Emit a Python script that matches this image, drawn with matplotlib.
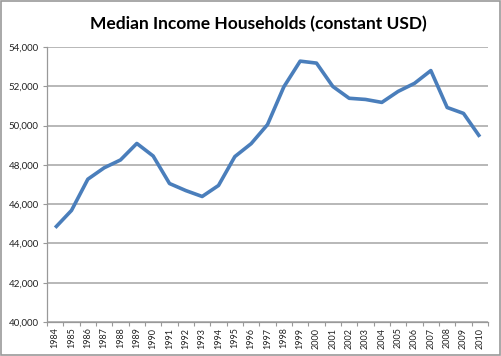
import matplotlib
matplotlib.use("Agg")
import matplotlib.pyplot as plt
from matplotlib.patches import Rectangle
from matplotlib.ticker import FuncFormatter, FixedLocator

years = list(range(1984, 2011))
income = [44800, 45680, 47270, 47850, 48250, 49090, 48450, 47050, 46690,
          46390, 46950, 48420, 49080, 50050, 51970, 53280, 53180, 51990,
          51390, 51330, 51180, 51740, 52150, 52800, 50920, 50620, 49430]

plt.rcParams['font.family'] = ['Lato', 'DejaVu Sans']

fig = plt.figure(figsize=(5.02, 3.56), dpi=100)
ax = fig.add_axes([47 / 502, 34 / 356, 441 / 502, 275 / 356])

x = list(range(len(years)))
ax.plot(x, income, color="#4a7ebb", linewidth=2.6, solid_joinstyle="round",
        solid_capstyle="butt", zorder=3)

ax.set_xlim(-0.5, len(years) - 0.5)
ax.set_ylim(40000, 54000)
ax.set_yticks(range(40000, 54001, 2000))
ax.yaxis.set_major_formatter(FuncFormatter(lambda v, p: f"{int(v):,}"))
ax.set_xticks(x)
ax.set_xticklabels([str(y) for y in years], rotation=90)
ax.xaxis.set_minor_locator(FixedLocator([i - 0.5 for i in range(len(years) + 1)]))

ax.grid(True, axis="y", color="#b8b8b8", linewidth=1.4, zorder=1)
ax.tick_params(axis="x", which="major", length=0, labelsize=6.5, pad=4,
               labelcolor="#222222")
ax.tick_params(axis="x", which="minor", length=3, color="#999999", width=0.8)
ax.tick_params(axis="y", length=3, color="#999999", width=0.8, labelsize=7,
               labelcolor="#222222", pad=3)

for side in ["top", "right"]:
    ax.spines[side].set_visible(False)
for side in ["left", "bottom"]:
    ax.spines[side].set_color("#999999")
    ax.spines[side].set_linewidth(0.9)

fig.text(258 / 502, 1 - 24 / 356, "Median Income Households (constant USD)",
         ha="center", va="center", fontsize=12.5, fontweight="bold")

fig.patches.append(Rectangle((0.002, 0.003), 0.995, 0.994, transform=fig.transFigure,
                             fill=False, edgecolor="#999999", linewidth=1.2))

fig.savefig("out.png", dpi=100)
